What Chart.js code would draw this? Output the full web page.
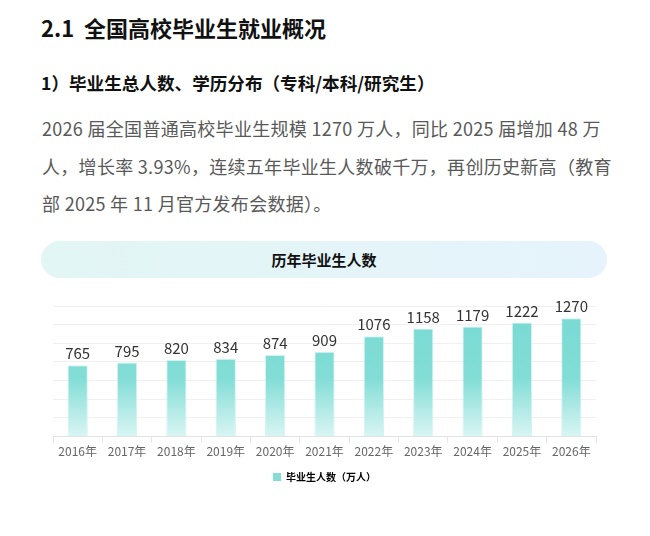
<!DOCTYPE html>
<html><head><meta charset="utf-8">
<script src="https://cdn.jsdelivr.net/npm/chart.js@4.4.1/dist/chart.umd.min.js"></script>
<style>
html,body{margin:0;padding:0;background:#fff;width:650px;height:536px;overflow:hidden;font-family:"Noto Sans CJK SC","Noto Sans",sans-serif;}
#h1{position:absolute;left:41px;top:11px;font-size:22px;font-weight:bold;color:#111;white-space:nowrap;}
#h2{position:absolute;left:41px;top:70px;font-size:17.6px;font-weight:bold;color:#111;white-space:nowrap;}
#p{position:absolute;left:42px;top:110px;width:577px;font-size:18px;letter-spacing:0.3px;line-height:37.5px;color:#595959;}
#pill{position:absolute;left:41px;top:241px;width:566px;height:37px;border-radius:19px;background:linear-gradient(90deg,#e2f6f4,#e6f3fc);text-align:center;line-height:37px;font-size:15px;font-weight:bold;color:#111;}
#wrap{position:absolute;left:0;top:288px;width:650px;height:212px;}
</style></head>
<body>
<div id="h1">2.1&nbsp; 全国高校毕业生就业概况</div>
<div id="h2">1）毕业生总人数、学历分布（专科/本科/研究生）</div>
<div id="p">2026 届全国普通高校毕业生规模 1270 万人，同比 2025 届增加 48 万人，增长率 3.93%，连续五年毕业生人数破千万，再创历史新高（教育部 2025 年 11 月官方发布会数据）。</div>
<div id="pill">历年毕业生人数</div>
<div id="wrap"><canvas id="c"></canvas></div>
<script>
const categories = ["2016年","2017年","2018年","2019年","2020年","2021年","2022年","2023年","2024年","2025年","2026年"];
const graduates = [765,795,820,834,874,909,1076,1158,1179,1222,1270];
const seriesName = "毕业生人数（万人）";

const valueLabels = {
  id:'valueLabels',
  afterDatasetsDraw(chart){
    const ctx = chart.ctx;
    const meta = chart.getDatasetMeta(0);
    ctx.save();
    ctx.font = '15px "Noto Sans CJK SC", sans-serif';
    ctx.fillStyle = '#333';
    ctx.textAlign = 'center';
    ctx.textBaseline = 'bottom';
    meta.data.forEach((bar,i)=>{
      ctx.fillText(String(graduates[i]), bar.x, bar.y - 4);
    });
    ctx.restore();
  }
};

new Chart(document.getElementById('c'), {
  type:'bar',
  data:{
    labels: categories,
    datasets:[{
      label: seriesName,
      data: graduates,
      backgroundColor(ctx){
        const ca = ctx.chart.chartArea;
        if(!ca) return '#7ddcd6';
        const g = ctx.chart.ctx.createLinearGradient(0, ca.top, 0, ca.bottom);
        g.addColorStop(0,'#78dad3');
        g.addColorStop(0.55,'#82ddd6');
        g.addColorStop(1,'#d9f5f3');
        return g;
      },
      borderColor:'rgba(200,240,237,0.8)',
      borderWidth:1,
      categoryPercentage:1,
      barPercentage:0.41
    }]
  },
  options:{
    responsive:true,
    maintainAspectRatio:false,
    animation:false,
    layout:{padding:{left:53,right:54,top:18,bottom:8}},
    plugins:{
      legend:{
        position:'bottom',
        labels:{
          boxWidth:8, boxHeight:8, padding:11,
          color:'#222',
          font:{family:'"Noto Sans CJK SC", sans-serif', size:10, weight:'bold'},
          generateLabels(chart){
            return [{text: seriesName, fillStyle:'#86ddd8', strokeStyle:'#86ddd8', lineWidth:0, datasetIndex:0}];
          }
        }
      },
      tooltip:{enabled:false}
    },
    scales:{
      x:{
        grid:{display:true, drawOnChartArea:false, offset:true, color:'#e6e6e6', tickLength:6},
        border:{color:'#e3e3e3'},
        ticks:{color:'#666', font:{family:'"Noto Sans CJK SC", sans-serif', size:12}, padding:2}
      },
      y:{
        min:0, max:1400,
        ticks:{display:false, stepSize:200},
        grid:{color:'#f0f0f0', drawTicks:false},
        border:{display:false}
      }
    }
  },
  plugins:[valueLabels]
});
</script>
</body></html>
